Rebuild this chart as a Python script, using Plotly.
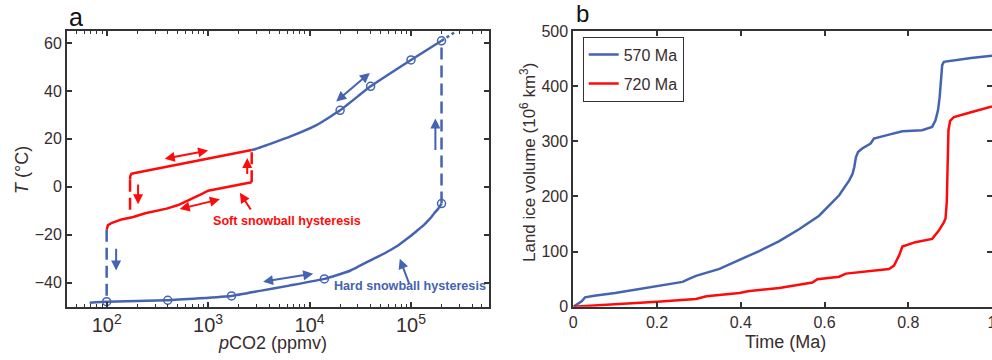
import numpy as np
import plotly.graph_objects as go

BLUE = "#4463b1"
RED = "#ff0a0a"
INK = "#372c2e"
AXIS = "#333333"
FONT = "Liberation Sans, Arial, sans-serif"

# ---- Panel a: temperature vs pCO2 ----
# hard snowball, cold (lower) branch
hard_lower_pco2 = [68, 100, 390, 1700, 3240, 6310, 14000, 25100, 42700, 56200,
                   72400, 89100, 100000, 114800, 131800, 151400, 169800, 186200, 200000]
hard_lower_t = [-48.3, -47.9, -47.3, -45.5, -43.4, -41.2, -38.4, -35.0, -30.0, -27.5,
                -24.8, -22.0, -20.4, -18.3, -16.2, -13.6, -11.0, -9.0, -7.0]
# warm (upper) branch
hard_upper_pco2 = [2690, 2900, 6400, 11700, 20000, 40000, 100000, 200000]
hard_upper_t = [15.4, 15.7, 20.9, 25.7, 31.9, 41.9, 52.9, 60.9]
# continuation beyond the last solved state
hard_extra_pco2 = [200000, 282000]
hard_extra_t = [60.9, 65.0]
# jumps between branches
hard_jump_down_pco2 = [100, 100]
hard_jump_down_t = [-17.9, -47.9]
hard_jump_up_pco2 = [200000, 200000]
hard_jump_up_t = [-7.0, 60.9]
# solved equilibrium states
state_pco2 = [100, 400, 1700, 14000, 200000, 20000, 40000, 100000, 200000]
state_t = [-47.9, -47.3, -45.5, -38.4, -7.0, 31.9, 41.9, 52.9, 60.9]

# soft snowball branches
soft_lower_pco2 = [100, 103, 113, 140, 183, 240, 390, 507, 880, 1000, 2690]
soft_lower_t = [-17.9, -16.0, -15.0, -13.6, -12.6, -11.0, -9.1, -7.6, -2.8, -1.6, 1.9]
soft_upper_pco2 = [170, 171, 175, 190, 2690]
soft_upper_t = [3.0, 4.5, 5.4, 5.8, 15.4]
soft_jump_down_pco2 = [170, 170]
soft_jump_down_t = [3.0, -11.8]
soft_jump_up_pco2 = [2690, 2690]
soft_jump_up_t = [1.9, 15.4]

# arrows: (tail pCO2, tail T, head pCO2, head T, colour, double-headed)
arrows = [
    (361, 11.6, 1000, 15.1, RED, True),
    (204, 1.6, 204, -7.3, RED, False),
    (2430, 4.7, 2430, 12.0, RED, False),
    (507, -9.4, 1306, -5.2, RED, True),
    (2690, -10.1, 2056, -2.5, RED, False),
    (124, -25.2, 124, -34.9, BLUE, False),
    (3365, -39.7, 10860, -36.2, BLUE, True),
    (97300, -41.1, 77600, -30.0, BLUE, False),
    (174000, 14.7, 174000, 28.5, BLUE, False),
    (17700, 35.1, 39300, 47.5, BLUE, True),
]

# ---- Panel b: land ice volume vs time ----
time_570 = [0, 0.01, 0.02, 0.028, 0.05, 0.1, 0.142, 0.2, 0.261, 0.275, 0.293, 0.349,
            0.381, 0.405, 0.444, 0.492, 0.54, 0.587, 0.635, 0.659, 0.667, 0.671,
            0.675, 0.68, 0.69, 0.71, 0.718, 0.754, 0.786, 0.833, 0.857, 0.865,
            0.871, 0.875, 0.879, 0.881, 0.885, 0.913, 0.95, 1.0]
ice_570 = [0, 5, 10, 17, 20, 25, 30, 37, 45, 50, 56, 68.5,
           79, 87, 101, 119, 141, 165, 202, 229, 241, 253,
           271, 280.5, 287, 296, 305, 312, 318, 320, 326, 338,
           356, 380, 417, 438, 444, 447, 451, 455]
time_720 = [0, 0.1, 0.2, 0.293, 0.305, 0.318, 0.397, 0.417, 0.492, 0.571, 0.583,
            0.635, 0.651, 0.754, 0.766, 0.778, 0.786, 0.817, 0.857, 0.873, 0.885,
            0.889, 0.892, 0.894, 0.896, 0.9, 0.909, 0.952, 1.0]
ice_720 = [0, 4, 9, 14, 16, 19, 25, 28, 34, 44, 50,
           54.5, 60, 68.5, 74.5, 92.7, 109, 117, 123, 138, 153,
           160, 190, 250, 320, 337, 344, 353, 363]

fig = go.Figure()

def line(x, y, color, dash="solid", spline=False, xa="x", ya="y"):
    fig.add_trace(go.Scatter(
        x=x, y=y, mode="lines", showlegend=False, hoverinfo="skip",
        line=dict(color=color, width=2.5, dash=dash,
                  shape="spline" if spline else "linear", smoothing=0.4),
        xaxis=xa, yaxis=ya))

DASH = "12px,6px"
line(soft_lower_pco2, soft_lower_t, RED)
line(soft_upper_pco2, soft_upper_t, RED)
line(soft_jump_down_pco2, soft_jump_down_t, RED, DASH)
line(soft_jump_up_pco2, soft_jump_up_t, RED, DASH)
line(hard_lower_pco2, hard_lower_t, BLUE, spline=True)
line(hard_upper_pco2, hard_upper_t, BLUE, spline=True)
line(hard_extra_pco2, hard_extra_t, BLUE, "dot")
line(hard_jump_down_pco2, hard_jump_down_t, BLUE, DASH)
line(hard_jump_up_pco2, hard_jump_up_t, BLUE, DASH)
fig.add_trace(go.Scatter(
    x=state_pco2, y=state_t, mode="markers", showlegend=False, hoverinfo="skip",
    marker=dict(symbol="circle-open", size=8, color=BLUE, line=dict(width=1.5, color=BLUE)),
    xaxis="x", yaxis="y"))

for name, t, v, color in [("570 Ma", time_570, ice_570, BLUE),
                          ("720 Ma", time_720, ice_720, RED)]:
    fig.add_trace(go.Scatter(
        x=t, y=v, mode="lines", name=name, legendgroup=name,
        line=dict(color=color, width=2.5), xaxis="x2", yaxis="y2"))

annotations = []
for x0, y0, x1, y1, color, double in arrows:
    annotations.append(dict(
        x=np.log10(x1), y=y1, ax=np.log10(x0), ay=y0, xref="x", yref="y",
        axref="x", ayref="y", text="", showarrow=True,
        arrowhead=2, arrowsize=1, arrowwidth=2, arrowcolor=color,
        arrowside="end+start" if double else "end",
        startarrowhead=2, startarrowsize=1, standoff=0, startstandoff=0))


def paper_text(px, py, text, size, color=INK, angle=0, xanchor="center"):
    return dict(x=px / 992, y=1 - py / 360, xref="paper", yref="paper", text=text,
                xanchor=xanchor, yanchor="middle", textangle=angle, showarrow=False,
                font=dict(family=FONT, size=size, color=color))


annotations += [
    dict(x=3.782, y=-14.2, xref="x", yref="y", text="<b>Soft snowball hysteresis</b>",
         xanchor="center", yanchor="middle", showarrow=False,
         font=dict(family=FONT, size=12.6, color=RED)),
    dict(x=4.99, y=-41.3, xref="x", yref="y", text="<b>Hard snowball hysteresis</b>",
         xanchor="center", yanchor="middle", showarrow=False,
         font=dict(family=FONT, size=12.6, color=BLUE)),
    paper_text(67, 16.7, "a", 25, "#111111", xanchor="left"),
    paper_text(574, 13.4, "b", 24, "#111111", xanchor="left"),
    paper_text(22, 170, "<i>T</i> (°C)", 18, angle=-90),
    paper_text(272, 343, "<i>p</i>CO2 (ppmv)", 18),
    paper_text(528, 163, "Land ice volume (10<sup>6</sup> km<sup>3</sup>)", 17, angle=-90),
    paper_text(785, 342, "Time (Ma)", 18),
]

axis_common = dict(showline=True, linecolor=AXIS, linewidth=2, mirror="ticks",
                   ticks="inside", ticklen=5, tickwidth=1.5, tickcolor=AXIS,
                   showgrid=False, zeroline=False, automargin=False,
                   tickfont=dict(family=FONT, size=16, color=INK))

fig.update_layout(
    width=992, height=360,
    margin=dict(l=0, r=0, t=0, b=0, pad=0, autoexpand=False),
    paper_bgcolor="white", plot_bgcolor="white",
    font=dict(family=FONT, color=INK),
    xaxis=dict(type="log", range=[1.609, 5.769], domain=[67 / 992, 489 / 992],
               anchor="y", dtick=1, exponentformat="power",
               minor=dict(ticks="inside", ticklen=3, tickwidth=1, tickcolor=AXIS, dtick="D1"),
               **axis_common),
    yaxis=dict(range=[-50, 65], domain=[0.148, 0.914], anchor="x",
               tick0=0, dtick=20, **axis_common),
    xaxis2=dict(range=[0, 1], domain=[573.3 / 992, 1.0], anchor="y2",
                tick0=0, dtick=0.2, ticklabeloverflow="allow", **axis_common),
    yaxis2=dict(range=[0, 500], domain=[0.148, 0.914], anchor="x2",
                tick0=0, dtick=100, **axis_common),
    legend=dict(x=582.7 / 992, y=1 - 36.7 / 360, xanchor="left", yanchor="top",
                bgcolor="white", bordercolor=AXIS, borderwidth=1,
                font=dict(family=FONT, size=16, color=INK), tracegroupgap=5),
    annotations=annotations,
    showlegend=True,
)

fig.write_html("out.html")
